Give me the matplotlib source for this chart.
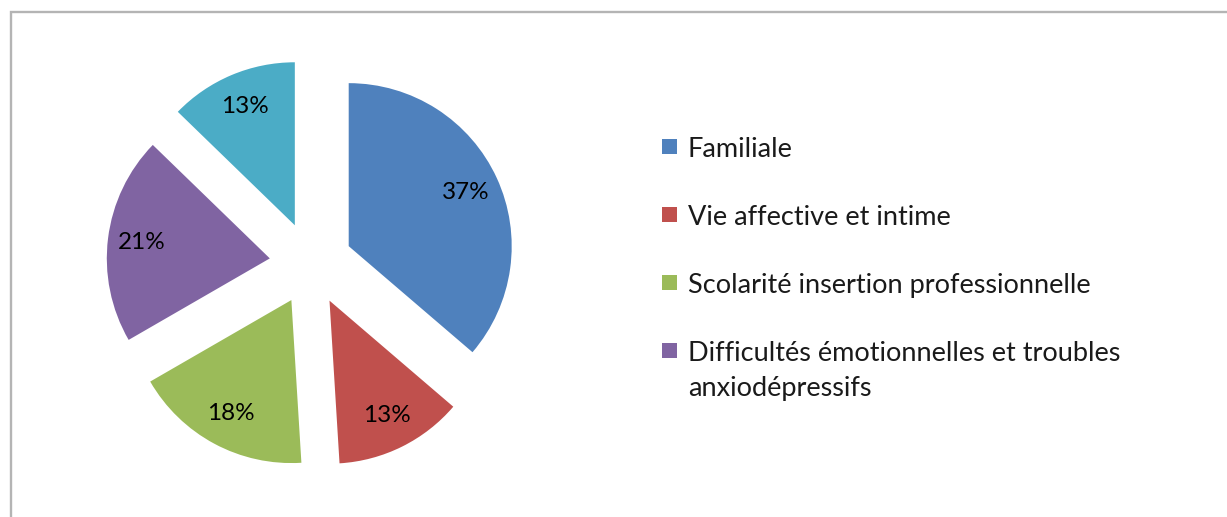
import matplotlib
matplotlib.use("Agg")
import matplotlib.pyplot as plt
from matplotlib.patches import Rectangle

plt.rcParams['font.family'] = ['Lato', 'DejaVu Sans']

categories = [
    "Familiale",
    "Vie affective et intime",
    "Scolarité insertion professionnelle",
    "Difficultés émotionnelles et troubles\nanxiodépressifs",
    "",
]
percentages = [37, 13, 18, 21, 13]
colors = ["#4F81BD", "#C0504D", "#9BBB59", "#8064A2", "#4BACC6"]

W, H = 1227, 517
fig = plt.figure(figsize=(W / 100, H / 100), dpi=100)
ax = fig.add_axes([0, 0, 1, 1])

# chart frame
ax.add_patch(Rectangle((11, -30), 1400, H - 12 + 30, fill=False,
                       edgecolor="#b4b4b4", linewidth=1.7))

R = 163
labels_txt = [f"{p}%" for p in percentages]
wedges, texts = ax.pie(
    percentages,
    colors=colors,
    startangle=90,
    counterclock=False,
    explode=[41.5] * len(percentages),
    radius=R,
    center=(311, H - 263.5),
    labels=labels_txt,
    labeldistance=0.79,
    textprops=dict(fontsize=17.5, color="black", ha="center", va="center"),
    frame=True,
)
ax.set_xlim(0, W)
ax.set_ylim(0, H)
ax.set_aspect('equal')
ax.axis('off')

# legend (first four categories shown, as in the reference)
sq = 15
x_sq = 662
x_txt = 688
baseline = 157
line_step = 35
for wedge, name in zip(wedges[:4], categories[:4]):
    yb = H - baseline
    ax.add_patch(Rectangle((x_sq, yb + 3), sq, sq,
                           facecolor=wedge.get_facecolor(), edgecolor="none"))
    for k, line in enumerate(name.split("\n")):
        ax.text(x_txt, yb - k * line_step, line, fontsize=19.5,
                va="baseline", ha="left", color="#1a1a1a")
    baseline += 68

fig.savefig("out.png", dpi=100)
